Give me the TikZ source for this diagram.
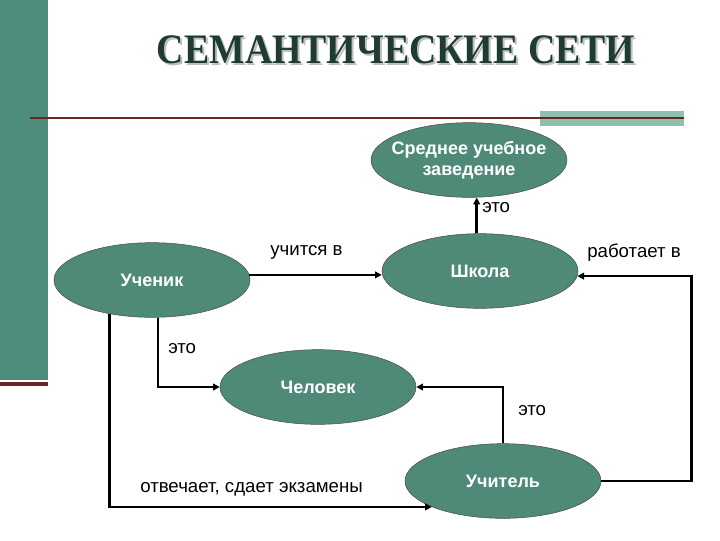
\documentclass[tikz,border=0pt]{standalone}
\usepackage{fontspec}
\setmainfont{Liberation Sans}
\newfontfamily\titlefont{Liberation Serif}
\usetikzlibrary{positioning, shapes.geometric, arrows.meta}
\definecolor{slidegreen}{RGB}{78,140,124}
\definecolor{nodegreen}{RGB}{79,138,120}
\definecolor{lightgreen}{RGB}{143,192,174}
\definecolor{rulered}{RGB}{105,38,38}
\definecolor{titlegreen}{RGB}{30,60,50}

\begin{document}
\begin{tikzpicture}[x=0.75pt, y=-0.75pt,
    concept/.style={draw=black!70, thin, ellipse, fill=nodegreen, text=white,
      font=\fontsize{13.5}{16}\selectfont\bfseries, align=center,
      minimum width=147pt, minimum height=56pt, inner sep=0pt},
    link/.style={draw, line width=2pt, -{Triangle[length=5pt, width=5pt]}},
    tag/.style={font=\fontsize{14}{16}\selectfont, inner sep=0pt, anchor=base west},
    headline/.style={font=\titlefont\bfseries\fontsize{31.5}{36}\selectfont, xscale=0.9, anchor=base}]
  \useasboundingbox[fill=white] (0,0) rectangle (720,540);

  % slide decoration
  \fill[slidegreen] (0,0) rectangle (48,380);
  \fill[rulered] (0,382) rectangle (48,386);
  \fill[lightgreen] (540,111) rectangle (684,126);
  \draw[rulered, line width=2pt] (30,118) -- (684,118);
  \node[headline, text=black!25] (titleshadow) at (398,65) {СЕМАНТИЧЕСКИЕ СЕТИ};
  \node[headline, text=titlegreen] (title) at (396,63) {СЕМАНТИЧЕСКИЕ СЕТИ};

  % concepts
  \node[concept, inner xsep=-6pt] (sredneye) at (469,160) {Среднее учебное\\заведение};
  \node[concept] (shkola) at (480,271) {Школа};
  \node[concept] (uchenik) at (152,280) {Ученик};
  \node[concept] (chelovek) at (318,387) {Человек};
  \node[concept] (uchitel) at (503,481) {Учитель};

  % relations
  \draw[link] (uchenik.3) -- (uchenik.3 -| shkola.west);
  \draw[link] (shkola.95) -- (shkola.95 |- sredneye.south);
  \draw[link] (uchitel.east) -- ++(90,0) |- (shkola.-3);
  \draw[link] ([xshift=4.5pt]uchenik.south) |- (chelovek.west);
  \draw[link] ([xshift=-32pt, yshift=2.9pt]uchenik.south) |- (uchitel.200);
  \draw[link] (uchitel.north) |- (chelovek.east);

  \node[tag] (l-uchitsya) at (270,255) {учится в};
  \node[tag] (l-eto1) at (482,212) {это};
  \node[tag] (l-rabotaet) at (587,257) {работает в};
  \node[tag] (l-eto2) at (168,353) {это};
  \node[tag] (l-eto3) at (518,415) {это};
  \node[tag] (l-otvechaet) at (140,492) {отвечает, сдает экзамены};
\end{tikzpicture}
\end{document}
